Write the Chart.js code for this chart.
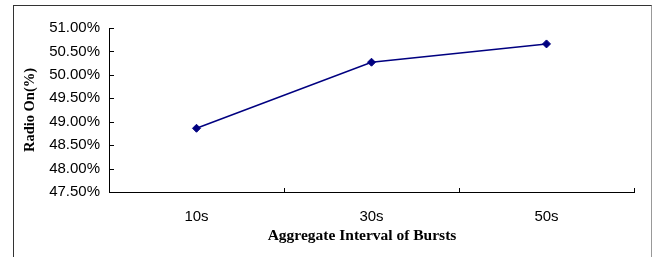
<!DOCTYPE html>
<html>
<head>
<meta charset="utf-8">
<script src="https://cdn.jsdelivr.net/npm/chart.js@4/dist/chart.umd.min.js"></script>
<style>
  html, body { margin: 0; padding: 0; background: #fff; }
  #frame {
    position: absolute; left: 13px; top: 5px; width: 637px; height: 300px;
    border-left: 1px solid #333; border-top: 1px solid #333; border-right: 1px solid #999;
  }
  #wrap { position: absolute; left: 0; top: 0; width: 652px; height: 257px; }
</style>
</head>
<body>
<div id="frame"></div>
<div id="wrap"><canvas id="chart" width="652" height="257"></canvas></div>
<script>
const categories = ['10s', '30s', '50s'];
const radioOn = [48.86, 50.27, 50.66];
const yMin = 47.5;
const yMax = 51.0;
const yStep = 0.5;
const xTitle = 'Aggregate Interval of Bursts';

// small inward tick marks like the original spreadsheet chart, plus the x title
const innerTicks = {
  id: 'innerTicks',
  afterDraw(chart) {
    const { ctx, chartArea, scales } = chart;
    ctx.save();
    ctx.strokeStyle = '#000';
    ctx.lineWidth = 1;
    ctx.beginPath();
    scales.y.ticks.forEach((t) => {
      const y = Math.round(scales.y.getPixelForValue(t.value)) + 0.5;
      ctx.moveTo(chartArea.left, y);
      ctx.lineTo(chartArea.left + 5, y);
    });
    for (let i = 0; i <= categories.length; i++) {
      const x = Math.round(scales.x.getPixelForValue(i - 0.5)) + 0.5;
      ctx.moveTo(x, chartArea.bottom);
      ctx.lineTo(x, chartArea.bottom - 4);
    }
    ctx.stroke();

    ctx.fillStyle = '#000';
    ctx.font = 'bold 15.5px "Times New Roman", "Liberation Serif", serif';
    ctx.textAlign = 'center';
    ctx.textBaseline = 'middle';
    ctx.fillText(xTitle, 362, 236);
    ctx.restore();
  },
};

const ctx = document.getElementById('chart').getContext('2d');
new Chart(ctx, {
  type: 'line',
  data: {
    labels: categories,
    datasets: [
      {
        data: radioOn,
        borderColor: '#000080',
        backgroundColor: '#000080',
        borderWidth: 1.5,
        pointStyle: 'rectRot',
        pointRadius: 4,
        pointBorderWidth: 1,
        tension: 0,
      },
    ],
  },
  options: {
    responsive: false,
    animation: false,
    layout: { padding: { top: 28, right: 18, left: 0, bottom: 0 } },
    plugins: { legend: { display: false }, tooltip: { enabled: false } },
    scales: {
      x: {
        offset: true,
        grid: { display: false, offset: true },
        border: { color: '#000', width: 1 },
        ticks: { color: '#000', font: { family: 'Arial, "Liberation Sans"', size: 15 }, padding: 8 },
        afterFit(scale) { scale.height = 65; },
      },
      y: {
        min: yMin,
        max: yMax,
        grid: { display: false },
        border: { color: '#000', width: 1 },
        ticks: {
          stepSize: yStep,
          color: '#000',
          padding: 1,
          font: { family: 'Arial, "Liberation Sans"', size: 15 },
          callback: (v) => v.toFixed(2) + '%',
        },
        title: {
          display: true,
          text: 'Radio On(%)',
          color: '#000',
          font: { family: '"Times New Roman", "Liberation Serif"', size: 14.5, weight: 'bold' },
          padding: { top: 22, bottom: 4 },
        },
        afterFit(scale) { scale.width = 109; },
      },
    },
  },
  plugins: [innerTicks],
});
</script>
</body>
</html>
